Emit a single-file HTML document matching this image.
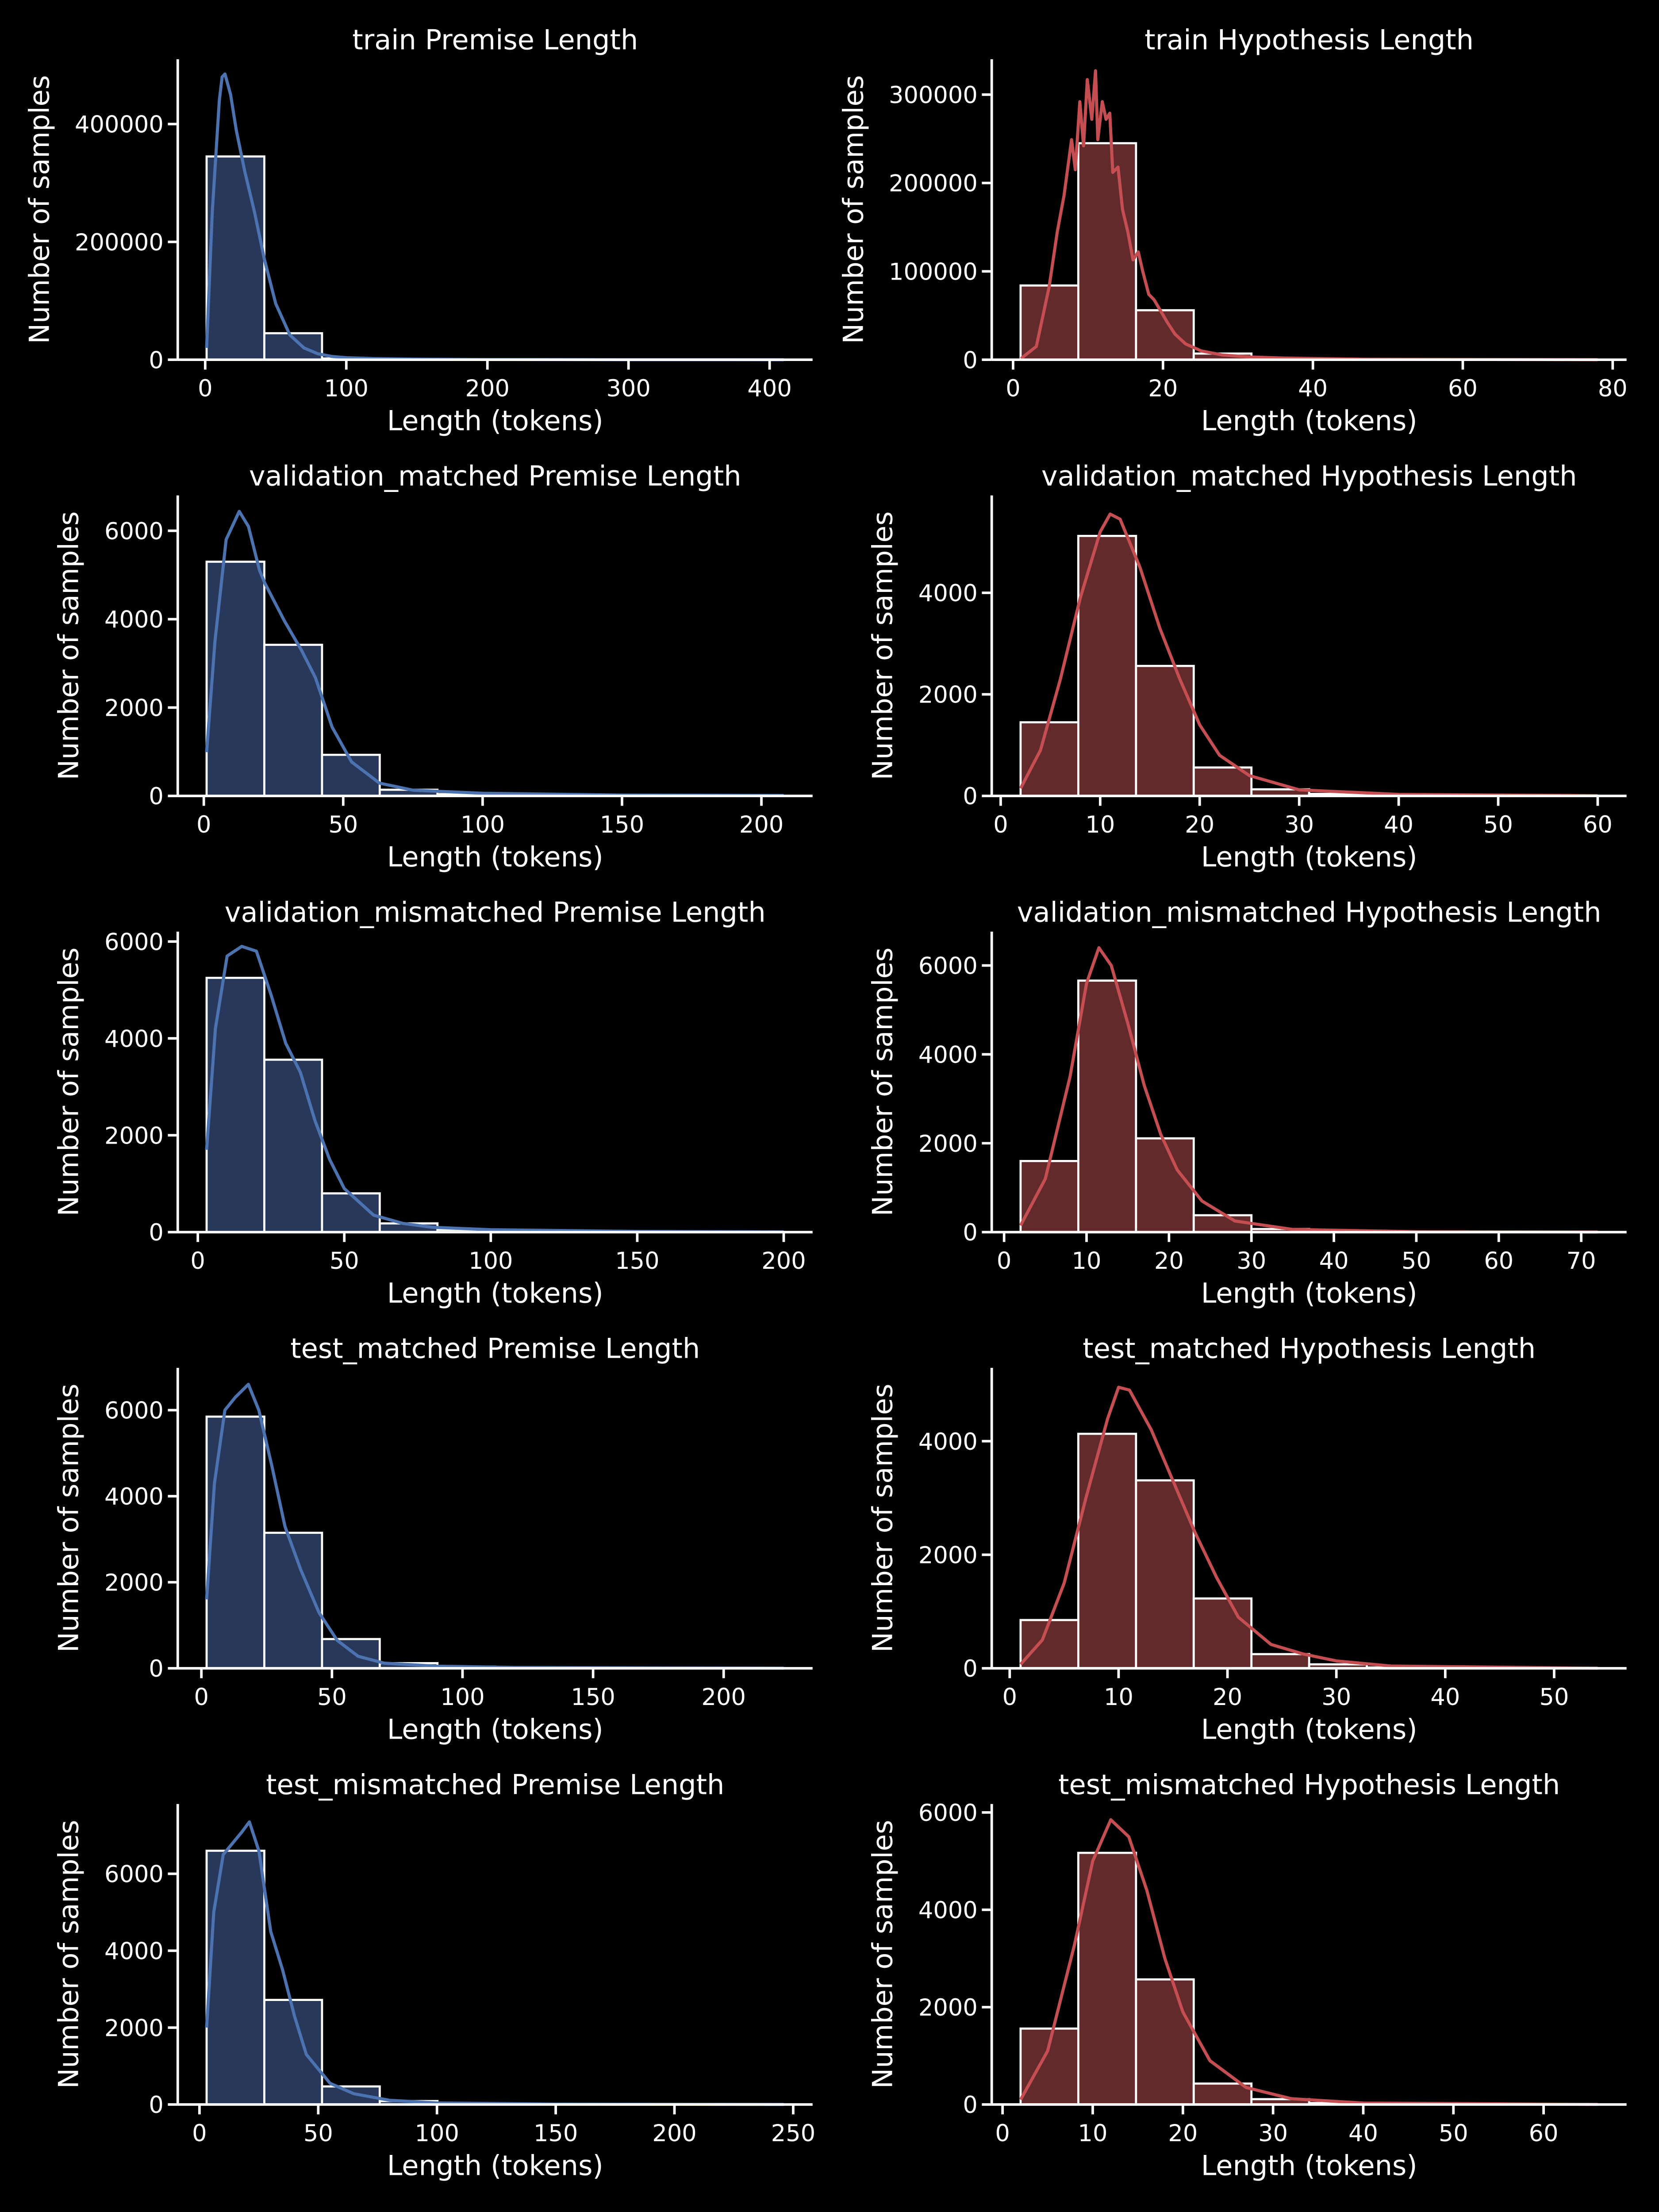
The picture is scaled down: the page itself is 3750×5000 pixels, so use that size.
<!DOCTYPE html>
<html><head><meta charset="utf-8">
<style>
html,body{margin:0;padding:0;background:#000;}
svg{display:block;}
text{font-family:"DejaVu Sans","Liberation Sans",sans-serif;fill:#fff;}
</style></head>
<body>
<svg id="fig" xmlns="http://www.w3.org/2000/svg" width="3750" height="5000" viewBox="0 0 1176 1568">
<rect x="0" y="0" width="1176" height="1568" fill="#000"/>
</svg>
<script>
// ---- data ----
const titles = ["train Premise Length","train Hypothesis Length","validation_matched Premise Length","validation_matched Hypothesis Length","validation_mismatched Premise Length","validation_mismatched Hypothesis Length","test_matched Premise Length","test_matched Hypothesis Length","test_mismatched Premise Length","test_mismatched Hypothesis Length"];
const dataMin = [1,1,1,2,3,2,2,1,3,2];
const dataMax = [410,78,208,60,200,72,223,54,246,66];
const yMax = [510000,340000,6800,5917,6204,6762,6984,5292,7815,6173];
const xTicks = [[0,100,200,300,400],[0,20,40,60,80],[0,50,100,150,200],[0,10,20,30,40,50,60],[0,50,100,150,200],[0,10,20,30,40,50,60,70],[0,50,100,150,200],[0,10,20,30,40,50],[0,50,100,150,200,250],[0,10,20,30,40,50,60]];
const yTicks = [[0,200000,400000],[0,100000,200000,300000],[0,2000,4000,6000],[0,2000,4000],[0,2000,4000,6000],[0,2000,4000,6000],[0,2000,4000,6000],[0,2000,4000],[0,2000,4000,6000],[0,2000,4000,6000]];
const counts = [
 [345000,45000,2200,600,300,150,80,40,20,10],
 [84000,245000,56000,7000,900,300,150,80,40,20],
 [5300,3420,930,140,40,15,8,5,3,2],
 [1450,5120,2560,560,130,40,15,5,2,1],
 [5250,3560,800,180,50,20,10,5,3,2],
 [1600,5660,2110,380,70,20,8,4,2,1],
 [5850,3150,680,120,40,15,6,3,2,1],
 [850,4130,3310,1230,250,70,15,5,2,1],
 [6600,2720,470,90,30,10,5,3,2,1],
 [1560,5170,2570,430,110,30,10,4,2,1]
];
const kdeX = [
 [1,5,10,12,14,18,22,28,35,42,50,60,70,80,90,100,120,150,200,300,410],
 [1.05,3.1,4.8,5.9,6.8,7.8,8.3,8.9,9.4,9.9,10.5,11,11.3,11.9,12.4,12.9,13.3,14,14.6,15.3,16,16.7,17.3,18.1,18.8,19.7,20.6,21.6,23,25.1,27.9,31.4,36.3,46.7,78],
 [1,4,8,12.7,16,20,22,29,35,40,46,53,63,75,100,150,208],
 [2,4,6,8,10,11,12,14,16,18,20,22,25,30,40,60],
 [3,6,10,15,20,25,30,35,40,45,50,60,70,80,100,150,200],
 [2,5,8,10,11.5,13,15,17,19,21,24,28,35,50,72],
 [2,5,9,13,18,22,27,32,38,45,52,60,70,90,120,223],
 [1,3,5,7,9,10,11,13,15,17,19,21,24,27,30,35,54],
 [3,6,10,14,18,21,25,30,35,40,45,55,65,80,100,150,246],
 [2,5,8,10,12,14,16,18,20,23,27,32,40,66]
];
const kdeY = [
 [20000,250000,440000,480000,485000,450000,390000,320000,250000,170000,95000,42000,20000,10000,5500,3500,2000,1000,400,120,50],
 [1300,15000,82000,145000,186000,249000,215000,292000,242000,317000,272000,327000,249000,292000,272000,279000,212000,218000,170000,145000,113000,122000,100000,74000,68000,55000,42000,29000,18000,10000,5400,3200,1900,600,100],
 [990,3500,5800,6440,6100,5100,4800,3950,3300,2680,1560,770,290,130,60,20,10],
 [150,900,2300,3900,5200,5550,5450,4500,3300,2300,1400,800,400,120,30,5],
 [1700,4200,5700,5900,5800,4900,3900,3300,2300,1500,900,350,180,100,50,15,5],
 [150,1200,3500,5600,6400,6000,4700,3300,2200,1400,700,250,60,10,2],
 [1600,4300,6000,6300,6600,6000,4700,3300,2300,1300,650,280,120,50,20,3],
 [70,500,1500,3000,4400,4950,4900,4200,3300,2400,1600,900,420,250,130,40,2],
 [2000,5000,6500,6800,7100,7350,6600,4500,3500,2300,1300,550,280,110,40,10,2],
 [100,1100,3300,5000,5850,5500,4400,3000,1900,900,350,120,30,2]
];
// ---- drawing ----
const NS = "http://www.w3.org/2000/svg";
const svg = document.getElementById("fig");
function mk(tag, attrs, parent){
  const e = document.createElementNS(NS, tag);
  for (const k in attrs) e.setAttribute(k, attrs[k]);
  (parent||svg).appendChild(e);
  return e;
}
for (let i = 0; i < 10; i++) {
  const col = i % 2, row = Math.floor(i / 2);
  const axL = col ? 703 : 126, axW = 450;
  const base = 255 + row * 309.2, axH = 213;
  const isLeft = col === 0;
  const fill = isLeft ? "#27385a" : "#632a2c";
  const line = isLeft ? "#4c72b0" : "#c44e52";
  const range = dataMax[i] - dataMin[i];
  const xlo = dataMin[i] - 0.05 * range, xhi = dataMax[i] + 0.05 * range;
  const sx = v => axL + (v - xlo) / (xhi - xlo) * axW;
  const sy = v => base - v / yMax[i] * axH;
  const g = mk("g", {});
  
  
  const bw = range / counts[i].length;
  counts[i].forEach((c, j) => {
    const x0 = sx(dataMin[i] + j * bw), x1 = sx(dataMin[i] + (j + 1) * bw);
    const r = mk("rect", {x: x0, y: sy(c), width: x1 - x0, height: base - sy(c), fill: fill, stroke: "#fff", "stroke-width": 1.5}, g);
    
    
  });
  const pts = kdeX[i].map((x, j) => sx(x).toFixed(2) + "," + sy(kdeY[i][j]).toFixed(2)).join(" ");
  const pl = mk("polyline", {points: pts, fill: "none", stroke: line, "stroke-width": 2.2, "stroke-linejoin": "round"}, g);
  
  
  const ya = mk("line", {x1: axL, y1: base - axH, x2: axL, y2: base, stroke: "#fff", "stroke-width": 1.8}, g);
  
  
  const xa = mk("line", {x1: axL, y1: base, x2: axL + axW, y2: base, stroke: "#fff", "stroke-width": 1.8}, g);
  
  
  xTicks[i].forEach(t => {
    const x = sx(t);
    const tk = mk("line", {x1: x, y1: base, x2: x, y2: base + 7, stroke: "#fff", "stroke-width": 1.8}, g);
    
    
    const tl = mk("text", {x: x, y: base + 26, "font-size": 16.5, "text-anchor": "middle"}, g);
    tl.textContent = t;
    
    
  });
  yTicks[i].forEach(t => {
    const y = sy(t);
    const tk = mk("line", {x1: axL - 7, y1: y, x2: axL, y2: y, stroke: "#fff", "stroke-width": 1.8}, g);
    
    
    const tl = mk("text", {x: axL - 10, y: y + 6, "font-size": 16.5, "text-anchor": "end"}, g);
    tl.textContent = t;
    
    
  });
  const title = mk("text", {x: axL + axW / 2, y: base - 220, "font-size": 19.5, "text-anchor": "middle"}, g);
  title.textContent = titles[i];
  
  
  const xl = mk("text", {x: axL + axW / 2, y: base + 50, "font-size": 19.5, "text-anchor": "middle"}, g);
  xl.textContent = "Length (tokens)";
  
  
  const maxLen = Math.max(...yTicks[i].map(t => String(t).length));
  const ylx = axL - 17 - maxLen * 10.4 - 12;
  const ycy = base - axH / 2;
  const yl = mk("text", {x: ylx, y: ycy, "font-size": 19.5, "text-anchor": "middle", transform: "rotate(-90 " + ylx + " " + ycy + ")"}, g);
  yl.textContent = "Number of samples";
  
  
}
</script>
</body></html>
